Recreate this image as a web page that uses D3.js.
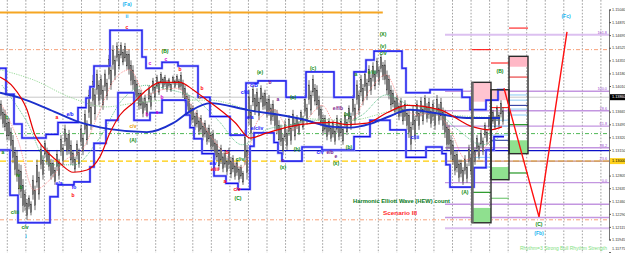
<!DOCTYPE html>
<html><head><meta charset="utf-8">
<script src="https://cdn.jsdelivr.net/npm/d3@7"></script>
<style>html,body{margin:0;padding:0;background:#fff;overflow:hidden}svg{display:block}text{font-family:"Liberation Sans",Arial,sans-serif}</style>
</head><body><svg id="c" width="625" height="253"></svg>
<script>
// ---------- DATA ----------
const highs=[1.1382,1.1369,1.1358,1.1335,1.1315,1.1295,1.1261,1.1254,1.1281,1.1302,1.1322,1.1328,1.1315,1.1302,1.1315,1.1335,1.1349,1.1342,1.1315,1.1328,
1.1349,1.1369,1.1396,1.1416,1.1423,1.1416,1.1423,1.1443,1.1456,1.1460,1.1460,1.1459,1.1450,1.1429,1.1409,1.1396,1.1389,1.1402,1.1412,1.1416,
1.1420,1.1416,1.1412,1.1415,1.1417,1.1420,1.1402,1.1389,1.1375,1.1369,1.1362,1.1355,1.1349,1.1342,1.1328,1.1322,1.1315,1.1318,1.1308,1.1302,
1.1295,1.1342,1.1396,1.1402,1.1398,1.1402,1.1396,1.1389,1.1382,1.1369,1.1349,1.1355,1.1362,1.1369,1.1362,1.1369,1.1389,1.1409,1.1416,1.1402,
1.1375,1.1362,1.1358,1.1355,1.1362,1.1358,1.1366,1.1375,1.1389,1.1409,1.1416,1.1423,1.1429,1.1433,1.1439,1.1444,1.1436,1.1416,1.1396,1.1389,
1.1385,1.1382,1.1369,1.1375,1.1382,1.1386,1.1389,1.1385,1.1382,1.1389,1.1385,1.1369,1.1349,1.1328,1.1315,1.1302,1.1308,1.1322,1.1328,1.1335,
1.1342,1.1352,1.1362,1.1369,1.1375,1.1382];
const lows=[1.1345,1.1328,1.1315,1.1281,1.1254,1.1231,1.1221,1.1227,1.1234,1.1248,1.1275,1.1295,1.1275,1.1268,1.1275,1.1295,1.1308,1.1295,1.1285,1.1291,
1.1308,1.1322,1.1342,1.1355,1.1375,1.1369,1.1382,1.1396,1.1409,1.1423,1.1429,1.1423,1.1402,1.1382,1.1369,1.1359,1.1359,1.1369,1.1382,1.1389,
1.1396,1.1393,1.1393,1.1398,1.1396,1.1385,1.1369,1.1349,1.1342,1.1335,1.1328,1.1322,1.1315,1.1302,1.1288,1.1285,1.1281,1.1277,1.1275,1.1271,
1.1268,1.1275,1.1328,1.1362,1.1355,1.1369,1.1358,1.1349,1.1342,1.1322,1.1308,1.1315,1.1322,1.1328,1.1335,1.1342,1.1349,1.1362,1.1375,1.1355,
1.1335,1.1328,1.1326,1.1322,1.1328,1.1322,1.1335,1.1342,1.1349,1.1362,1.1375,1.1382,1.1389,1.1396,1.1402,1.1409,1.1389,1.1369,1.1362,1.1355,
1.1349,1.1342,1.1315,1.1328,1.1342,1.1349,1.1352,1.1345,1.1342,1.1349,1.1342,1.1315,1.1302,1.1281,1.1272,1.1268,1.1271,1.1281,1.1295,1.1302,
1.1308,1.1322,1.1335,1.1342,1.1345,1.1349];

// moving averages [bar, price]
const slowMA=[[-0.5,1.1392],[4.5,1.1385],[12,1.1369],[19.5,1.1352],[27,1.1343],[36.25,1.1339],[42.75,1.1351],[47,1.1367],[52,1.1378],[61.25,1.1369],[74.5,1.1357],[82.75,1.1346],[87,1.1345],[92,1.1350],[96.25,1.1359],[102,1.1369],[107.75,1.1365],[116.25,1.1358],[124.5,1.1358]];
const redMA=[[-0.5,1.1413],[2.75,1.1400],[6.25,1.1369],[8.25,1.1335],[10.25,1.1319],[14.5,1.1297],[17.75,1.1285],[21.25,1.1288],[24.5,1.1306],[27,1.1338],[29.5,1.1362],[32.75,1.1378],[36.25,1.1396],[39.5,1.1406],[44.5,1.1406],[47.75,1.1396],[51.25,1.1382],[54.5,1.1369],[58.25,1.1352],[62,1.1331],[66.25,1.1338],[74.5,1.1349],[82.75,1.1352],[86.25,1.1349],[91.25,1.1351],[96.25,1.1365],[101.25,1.1375],[109.5,1.1369],[117.75,1.1346],[122,1.1342],[125,1.1346]];
const pinkDot=[[0,1.1375],[4,1.1328],[8,1.1261],[12,1.1275],[16,1.1302],[20,1.1315],[24,1.1362],[28,1.1409],[32,1.1423],[36,1.1389],[40,1.1396],[44,1.1398],[48,1.1369],[52,1.1335],[56,1.1308],[60,1.1291],[64,1.1355],[68,1.1369],[72,1.1342],[76,1.1355],[80,1.1375],[84,1.1345],[88,1.1358],[92,1.1396],[96,1.1416],[100,1.1375],[104,1.1362],[108,1.1366],[112,1.1342],[116,1.1302],[120,1.1315],[125,1.1349]];
const greenDot=[[0,1.1402],[6,1.1355],[12,1.1295],[18,1.1295],[24,1.1328],[30,1.1382],[36,1.1402],[42,1.1396],[48,1.1385],[54,1.1355],[60,1.1322],[66,1.1342],[72,1.1349],[78,1.1355],[84,1.1349],[90,1.1362],[96,1.1389],[102,1.1375],[108,1.1369],[114,1.1342],[120,1.1322],[125,1.1335]];
const slowGreenDot=[[-0.5,1.1423],[8,1.1409],[17,1.1386],[26,1.1373],[33,1.1378],[42,1.1382],[52,1.1382],[62,1.1369],[75,1.1358],[87,1.1355],[100,1.1369],[112,1.1362],[125,1.1358]];

// stepped channel [bar, price]
const upperSteps=[[-0.5,1.1425],[1,1.1390],[3,1.1350],[5,1.1331],[11,1.1336],[14,1.1352],[19,1.1372],[21,1.1385],[22,1.1400],[23,1.1428],[27,1.1476],[35,1.1440],[36,1.1425],[40,1.1433],[44,1.1428],[49,1.1386],[52,1.1360],[57,1.1335],[61,1.1405],[64,1.1408],[71,1.1386],[76,1.1420],[83,1.1386],[88,1.1420],[91,1.1436],[93,1.1448],[100,1.1425],[101,1.1392],[107,1.1396],[115,1.1386],[117,1.1369],[121,1.1382],[124,1.1396],[125.5,1.1396]];
const lowerSteps=[[-0.5,1.1315],[2,1.1254],[4,1.1217],[12,1.1252],[14,1.1268],[18,1.1272],[22,1.1292],[23,1.1324],[26,1.1355],[29,1.1392],[33,1.1355],[37,1.1365],[40,1.1382],[46,1.1362],[47,1.1345],[48,1.1330],[50,1.1310],[53,1.1280],[56,1.1270],[59,1.1262],[62,1.1320],[63,1.1338],[68,1.1325],[69,1.1311],[70,1.1300],[75,1.1319],[80,1.1315],[88,1.1333],[92,1.1355],[97,1.1342],[101,1.1305],[106,1.1319],[110,1.1310],[111,1.1295],[112,1.1265],[118,1.1291],[121,1.1315],[123,1.1333],[125.5,1.1333]];

// horizontal levels
const levelPrices=[1.1500,1.1450,1.1221,1.1386,1.1337,1.1314,1.1300];
const levelKinds=['orange','salmon','salmon','gray','green','blue','yellow'];
const levelFrom=[-0.5,-0.5,-0.5,-0.5,-0.5,-0.5,-0.5];
const levelTo=[95.2,151.75,151.75,151.75,151.75,151.75,151.75];

// fibonacci
const fibRatios=[161.8,100,78.6,61.8,38.2,23.6,0,-23.6,-38.2,-50];
const fibLabels=['161.8','100.0','78.6','61.8','38.2','23.6','0.0','','',''];
const fib0=1.1271, fib100=1.1394, fibStart=110.75;

// rhythm boxes
const boxStart=[117.5,122.25,126.75], boxEnd=[122.25,126.75,131.5];
const boxTop=[1.1406,1.1396,1.1441], boxPinkBottom=[1.1380,1.1382,1.1427];
const boxGreenTop=[1.1237,1.1292,1.1328], boxBottom=[1.1217,1.1275,1.1310];
const rhythmLines=[[0,1.1450,'red'],[1,1.1432,'red'],[2,1.1479,'red'],[2,1.1413,'lightred'],[1,1.1372,'red'],[0,1.1258,'green'],[1,1.1250,'lightgreen'],[2,1.1284,'green'],[2,1.1349,'green'],[2,1.1389,'lightblue'],[2,1.1382,'lightblue'],[2,1.1375,'navy'],[2,1.1370,'lightblue'],[2,1.1362,'lightblue'],[1,1.1355,'lightblue'],[1,1.1347,'lightblue'],[1,1.1335,'lightblue'],[1,1.1328,'navy'],[0,1.1292,'lightblue'],[0,1.1305,'lightblue']];

// projected zigzag (B)->(C)->(Fc)
const zzBars=[125.5,134.25,141.25], zzPrices=[1.1398,1.1225,1.1474];

// wave labels [bar, price, text, colour]
const waveLabels=[
[31.25,1.1510,'(Fa)','cyan'],[31.25,1.1494,'ii','cyan'],[31.25,1.1479,'c','red'],
[40.75,1.1447,'(B)','green'],[41,1.1436,'c','magenta'],[37,1.1431,'c','magenta'],[44.5,1.1423,'b','red'],
[40,1.1386,'b','magenta'],[36.25,1.1362,'b','magenta'],[38.75,1.1365,'a','magenta'],[32.75,1.1347,'c/v','orange'],
[13.75,1.1358,'a','red'],[17,1.1362,'e/b','blue'],[1.25,1.1359,'b','green'],[32.75,1.1328,'(A)','green'],
[0.25,1.1311,'a','green'],[4,1.1281,'iv','green'],[4.75,1.1264,'b','green'],[3.25,1.1230,'c/iii','green'],
[5.75,1.1210,'c/v','green'],[6,1.1198,'i','cyan'],[14.25,1.1269,'e/a','blue'],[18,1.1264,'fo','blue'],[17.75,1.1253,'b','red'],
[50,1.1398,'b','red'],[49.5,1.1386,'c','orange'],
[60.75,1.1392,'c/iii','blue'],[63,1.1402,'c/B','blue'],[64.5,1.1419,'(e)','green'],[67,1.1405,'b','purple'],[69,1.1382,'a','purple'],
[62,1.1359,'e/a','blue'],[72.75,1.1386,'(a)','green'],[77.75,1.1425,'(c)','green'],[84,1.1370,'e/f/b','purple'],[86.25,1.1363,'(a)','green'],
[88.5,1.1416,'a','green'],[92.5,1.1419,'e/iii','green'],[95.25,1.1445,'c/v','green'],[95.25,1.1470,'(X)','green'],[95.25,1.1454,'(v)','green'],
[52.75,1.1297,'e/v','blue'],[53.25,1.1289,'e/iii','red'],[56.25,1.1311,'b','red'],[55.75,1.1272,'a','red'],[58.75,1.1261,'c/v','red'],
[59,1.1249,'(C)','green'],[59.5,1.1302,'c/iv','green'],[63.75,1.1343,'e/c/iv','blue'],[70.25,1.1300,'c','purple'],[70.25,1.1291,'(x)','green'],
[73.75,1.1315,'(b)','green'],[79.5,1.1312,'c/v','blue'],[82,1.1311,'e/b','purple'],[83.5,1.1306,'e','purple'],[83.5,1.1296,'(x)','green'],
[86.75,1.1318,'(b)','green'],[103.25,1.1332,'c/iii','blue'],[115.75,1.1257,'(A)','green'],[124.5,1.1420,'(B)','green'],
[141,1.1494,'(Fc)','cyan'],[134.25,1.1215,'(C)','green'],[134.25,1.1202,'(Fb)','cyan']];

// visible axis labels (1.13840 and 1.12980 sit under the price boxes)
const tickVals=[1.15040,1.14870,1.14695,1.14525,1.14355,1.14180,1.14010,1.13665,1.13495,1.13320,1.13150,1.12805,1.12635,1.12460,1.12290,1.12115,1.11945,1.11775];
const bidPrice=1.13860, markPrice=1.13000;

// ---------- DRAW ----------
const W=625,H=253,axisX=609;
const xs=d3.scaleLinear().domain([0,150]).range([2,602]);
const ys=d3.scaleLinear().domain([1.15040,1.11945]).range([9.5,239.5]);
const svg=d3.select('#c');
svg.append('rect').attr('width',W).attr('height',H).attr('fill','#fff');

// vertical dotted grid
const gx=d3.range(0,33).map(k=>7.3+18.55*k);
svg.append('g').selectAll('line').data(gx).join('line')
 .attr('x1',d=>d).attr('x2',d=>d).attr('y1',0).attr('y2',H)
 .attr('stroke','#7a7a7a').attr('stroke-width',0.7).attr('stroke-dasharray','1.6,1.6');

// horizontal levels
const levelStyle={orange:['#f5a623',2,null],salmon:['#f7a07a',1,'4,2,1,2'],gray:['#c8c8c8',1,null],
 green:['#3cb043',0.9,'4,2,1,2'],blue:['#0a10c8',1.2,null],yellow:['#ffcc00',1.2,'6,3']};
levelPrices.forEach((p,i)=>{const s=levelStyle[levelKinds[i]];
 svg.append('line').attr('x1',Math.max(0,xs(levelFrom[i]))).attr('x2',Math.min(axisX,xs(levelTo[i])))
  .attr('y1',ys(p)).attr('y2',ys(p)).attr('stroke',s[0]).attr('stroke-width',s[1]).attr('stroke-dasharray',s[2]);});

// fib lines
const fibP=r=>fib0+r/100*(fib100-fib0);
fibRatios.forEach((r,i)=>{
 const col = r===23.6?'#c68c7c':(r===161.8||r===-50?'#dcc0f0':'#c396e0');
 svg.append('line').attr('x1',xs(fibStart)).attr('x2',axisX).attr('y1',ys(fibP(r))).attr('y2',ys(fibP(r)))
  .attr('stroke',col).attr('stroke-width',(r===161.8||r===-50)?2:1.4);
 if(fibLabels[i]) svg.append('text').attr('x',axisX-2).attr('y',ys(fibP(r))-0.8).attr('text-anchor','end')
  .attr('font-size',3.8).attr('fill','#9b4fd0').text(fibLabels[i]);
});

// rhythm boxes
const gb=svg.append('g');
boxStart.forEach((s,i)=>{
 const x0=xs(s),x1=xs(boxEnd[i]);
 gb.append('rect').attr('x',x0).attr('y',ys(boxTop[i])).attr('width',x1-x0).attr('height',ys(boxPinkBottom[i])-ys(boxTop[i])).attr('fill',i===2?'#ffb8c6':'#ffc4d0');
 gb.append('rect').attr('x',x0).attr('y',ys(boxGreenTop[i])).attr('width',x1-x0).attr('height',ys(boxBottom[i])-ys(boxGreenTop[i])).attr('fill','#8fe08f');
});
const rlStyle={red:['#ff1a1a',1.1],lightred:['#f08080',1.8],green:['#108c10',1.1],lightgreen:['#6cc46c',1.1],lightblue:['#8ccaf5',1],navy:['#1a2a9a',1]};
rhythmLines.forEach(d=>{const s=rlStyle[d[2]];
 gb.append('line').attr('x1',xs(boxStart[d[0]])).attr('x2',xs(boxEnd[d[0]])).attr('y1',ys(d[1])).attr('y2',ys(d[1])).attr('stroke',s[0]).attr('stroke-width',s[1]);});

// price bars (two thin candles per bar)
const gp=svg.append('g');
highs.forEach((h,i)=>{
 const yh=ys(h), yl=ys(lows[i]), r=yl-yh, x=xs(i);
 [[x-1,yh,yh+0.7*r],[x+1,yh+0.3*r,yl]].forEach(c=>{
  gp.append('line').attr('x1',c[0]).attr('x2',c[0]).attr('y1',c[1]).attr('y2',c[2]).attr('stroke','#2a2a2a').attr('stroke-width',0.7);
  const rr=c[2]-c[1];
  gp.append('rect').attr('x',c[0]-0.8).attr('y',c[1]+0.2*rr).attr('width',1.6).attr('height',0.6*rr).attr('fill','#a0a0a0').attr('stroke','#222').attr('stroke-width',0.35);
 });
});

// MAs
const lc=d3.line().x(d=>xs(d[0])).y(d=>ys(d[1])).curve(d3.curveMonotoneX);
svg.append('path').attr('d',lc(slowGreenDot)).attr('fill','none').attr('stroke','#8fd68f').attr('stroke-width',0.9).attr('stroke-dasharray','1.2,1.2');
svg.append('path').attr('d',lc(greenDot)).attr('fill','none').attr('stroke','#3cb371').attr('stroke-width',0.8).attr('stroke-dasharray','1,1');
svg.append('path').attr('d',lc(pinkDot)).attr('fill','none').attr('stroke','#ff7b7b').attr('stroke-width',0.8).attr('stroke-dasharray','1,1');

// channel
const ls=d3.line().x(d=>xs(d[0])).y(d=>ys(d[1])).curve(d3.curveStepAfter);
[upperSteps,lowerSteps].forEach(s=>{
 svg.append('path').attr('d',ls(s)).attr('fill','none').attr('stroke','#8c8cff').attr('stroke-width',2.4);
 svg.append('path').attr('d',ls(s)).attr('fill','none').attr('stroke','#1414e6').attr('stroke-width',1.1);
});
svg.append('path').attr('d',lc(slowMA)).attr('fill','none').attr('stroke','#1c30cc').attr('stroke-width',1.9);
svg.append('path').attr('d',lc(redMA)).attr('fill','none').attr('stroke','#e60000').attr('stroke-width',1.2);

// box borders
boxStart.forEach((s,i)=>{
 const x0=xs(s),x1=xs(boxEnd[i]);
 svg.append('rect').attr('x',x0).attr('y',ys(boxTop[i])).attr('width',x1-x0).attr('height',ys(boxBottom[i])-ys(boxTop[i]))
  .attr('fill','none').attr('stroke','#2b2b2b').attr('stroke-width',1.4);
});
svg.append('line').attr('x1',xs(boxStart[0])+0.5).attr('x2',xs(boxStart[0])+0.5).attr('y1',ys(boxTop[0])).attr('y2',ys(boxBottom[0])).attr('stroke','#6a6a6a').attr('stroke-width',2.4);

// zigzag
svg.append('path').attr('d',d3.line().x((d,i)=>xs(zzBars[i])).y(d=>ys(d))(zzPrices)).attr('fill','none').attr('stroke','#ff1010').attr('stroke-width',1.4);

// labels
const colMap={green:'#0a8a0a',red:'#ff0000',magenta:'#d000d0',purple:'#7a1a8a',blue:'#1010ff',cyan:'#12b4f0',orange:'#e69a00'};
svg.append('g').selectAll('text').data(waveLabels).join('text')
 .attr('x',d=>xs(d[0])).attr('y',d=>ys(d[1])).attr('text-anchor','middle').attr('dominant-baseline','middle')
 .attr('font-size',5).attr('font-weight','bold').attr('fill',d=>colMap[d[3]]).text(d=>d[2]);

svg.append('text').attr('x',xs(87.75)).attr('y',ys(1.1245)).attr('dominant-baseline','middle').attr('font-size',5.6).attr('font-weight','bold')
 .attr('fill','#0a7a1a').attr('textLength',97).attr('lengthAdjust','spacingAndGlyphs').text('Harmonic Elliott Wave (HEW) count');
svg.append('text').attr('x',xs(99.5)).attr('y',ys(1.1229)).attr('text-anchor','middle').attr('dominant-baseline','middle').attr('font-size',5.6).attr('font-weight','bold')
 .attr('fill','#ff2a2a').attr('textLength',34).attr('lengthAdjust','spacingAndGlyphs').text('Scenario III');
svg.append('text').attr('x',axisX-2).attr('y',249).attr('text-anchor','end').attr('dominant-baseline','middle').attr('font-size',5)
 .attr('fill','#7ee07e').attr('textLength',87).attr('lengthAdjust','spacingAndGlyphs').text('Rhythm=3 Strong Bull Rhythm Strength');

// right axis
const ax=svg.append('g').attr('transform',`translate(${axisX},0)`)
 .call(d3.axisRight(ys).tickValues(tickVals).tickFormat(d=>d.toFixed(5)).tickSize(2).tickPadding(1));
ax.select('.domain').attr('stroke','#555').attr('stroke-width',0.8);
ax.selectAll('.tick line').attr('stroke','#555');
ax.selectAll('.tick text').attr('font-size',3.8).attr('fill','#333').attr('font-family','Liberation Sans, Arial')
  .attr('dy',d=>ys(d)>H-3?'-0.6em':'0.32em');
// price boxes
[[bidPrice,'#000','#fff'],[markPrice,'#ffd21e','#000']].forEach(b=>{
 svg.append('rect').attr('x',axisX+1).attr('y',ys(b[0])-3).attr('width',W-axisX-1).attr('height',6).attr('fill',b[1]);
 svg.append('text').attr('x',axisX+3).attr('y',ys(b[0])).attr('dominant-baseline','middle').attr('font-size',3.8).attr('fill',b[2]).text(b[0].toFixed(5));
});
</script></body></html>
